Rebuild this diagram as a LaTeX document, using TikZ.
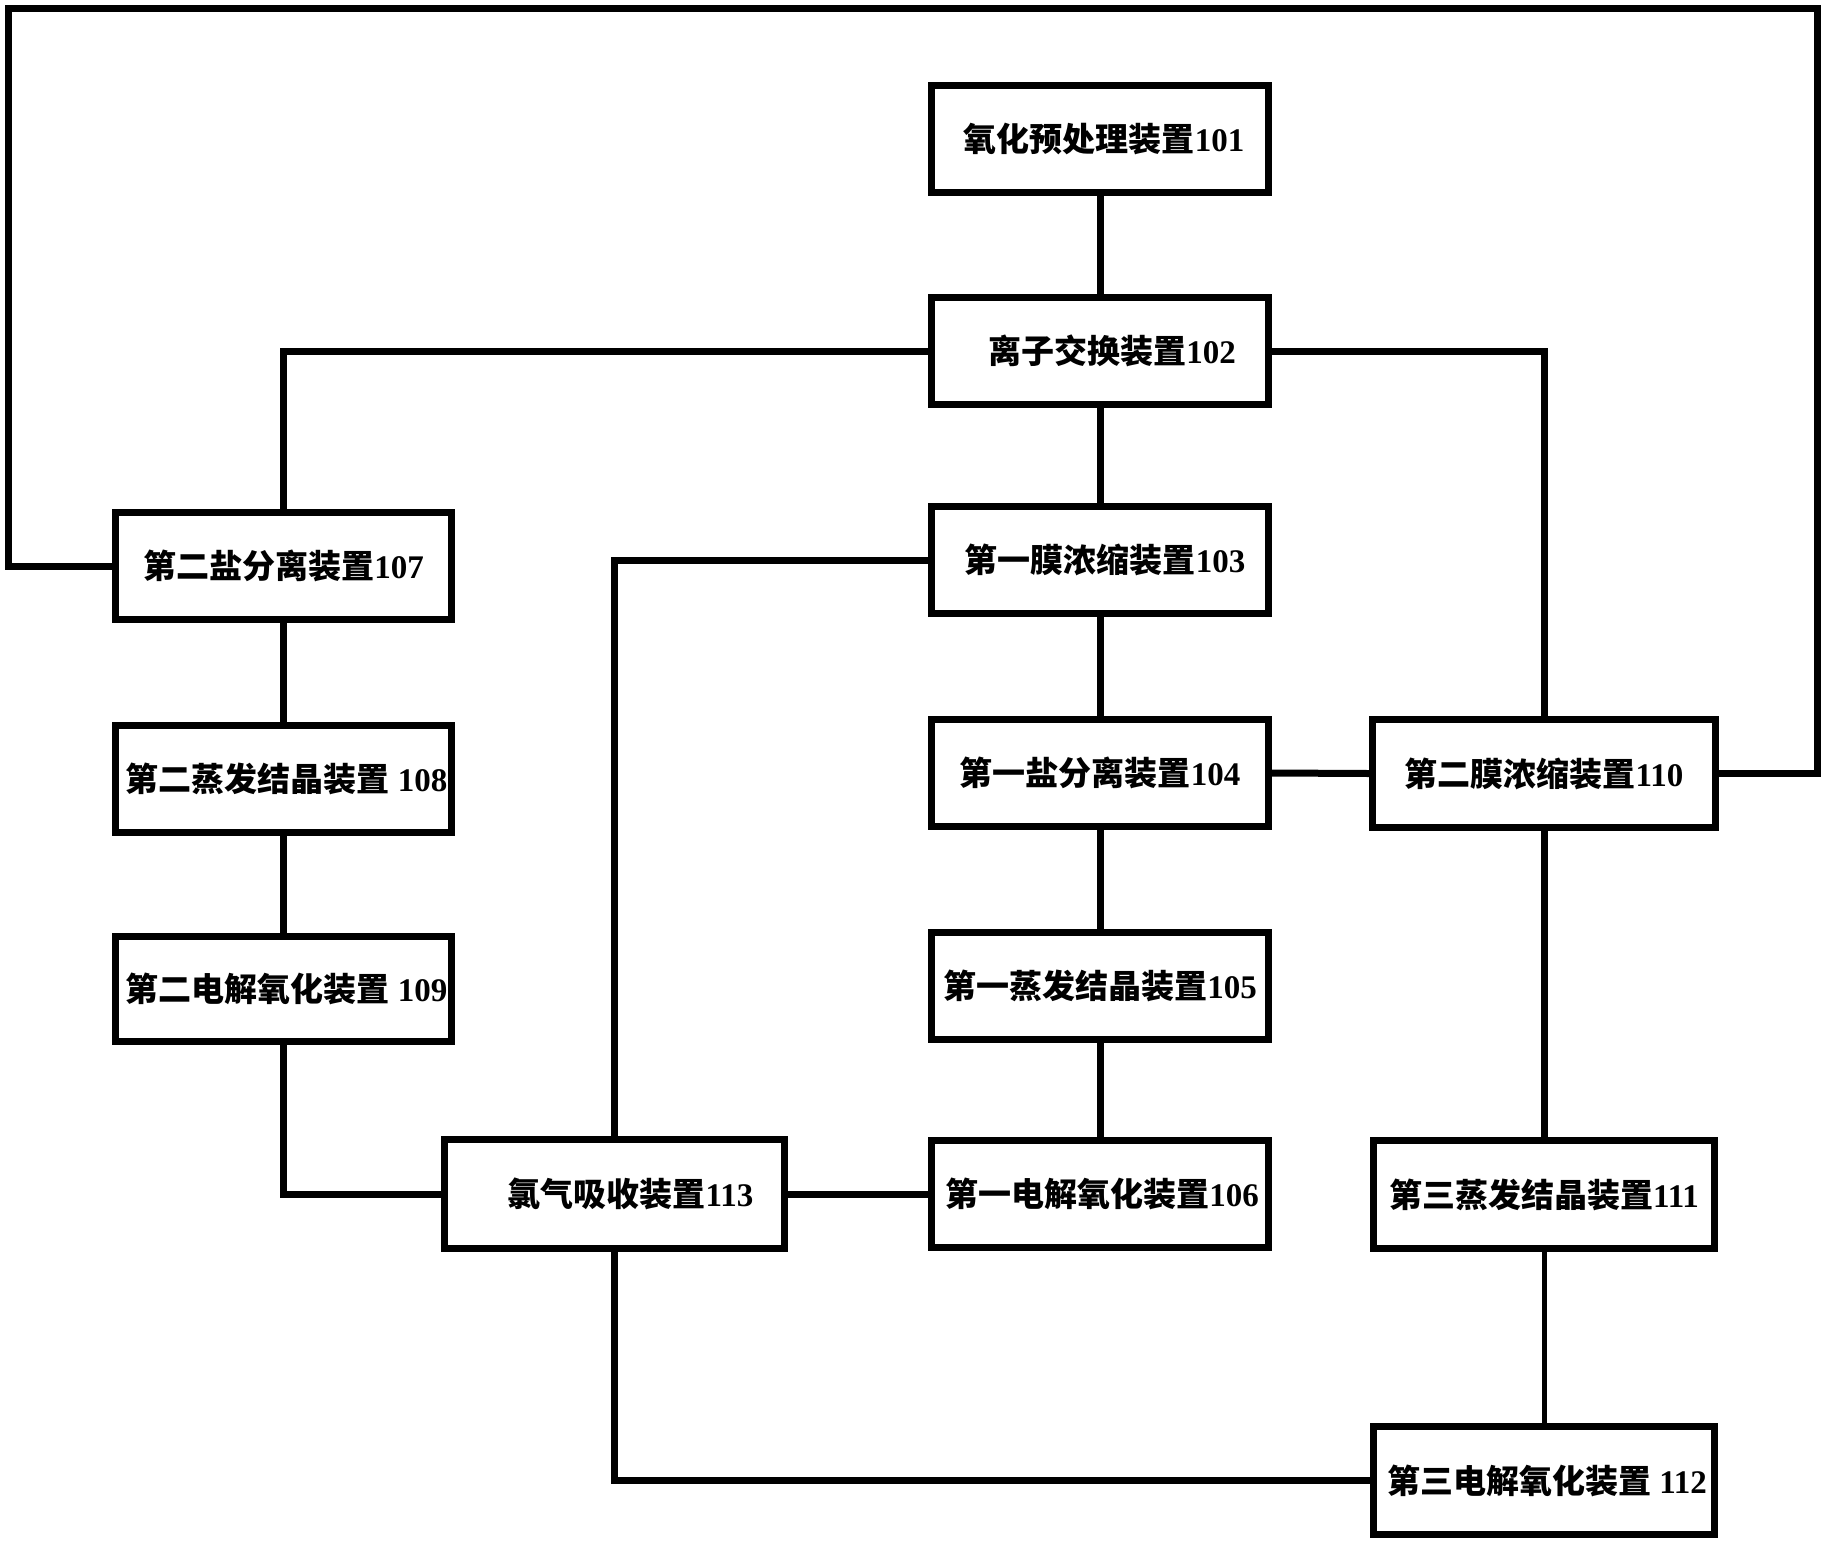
\documentclass[tikz,border=0pt]{standalone}
\usepackage{fontspec}
\newfontfamily\cjkf{Noto Sans CJK SC}
\newfontfamily\digf{Liberation Serif}
\newcommand\lab[2]{{\cjkf #1}{\digf #2}}
\tikzset{
  box/.style={draw, line width=7pt, minimum width=337pt, minimum height=107pt,
    inner sep=0pt, font=\fontsize{33}{40}\selectfont\bfseries},
  conn/.style={line width=7pt, line join=miter},
  thinconn/.style={line width=5pt}
}
\begin{document}
\begin{tikzpicture}[x=1pt,y=-1pt]
\fill[white] (0,0) rectangle (1822,1542);
\useasboundingbox (0,0) rectangle (1822,1542);
% middle column
\node[box] (b101) at (1100,139) {\hspace*{8pt}\lab{氧化预处理装置}{101}};
\node[box] (b102) at (1100,351) {\hspace*{24pt}\lab{离子交换装置}{102}};
\node[box] (b103) at (1100,560) {\hspace*{10pt}\lab{第一膜浓缩装置}{103}};
\node[box] (b104) at (1100,773) {\lab{第一盐分离装置}{104}};
\node[box] (b105) at (1100,985.5) {\lab{第一蒸发结晶装置}{105}};
\node[box] (b106) at (1100,1194) {\hspace*{4pt}\lab{第一电解氧化装置}{106}};
% left column
\node[box, minimum width=336pt] (b107) at (283.5,566) {\lab{第二盐分离装置}{107}};
\node[box, minimum width=336pt] (b108) at (283.5,779) {\hspace*{6pt}\lab{第二蒸发结晶装置}{~108}};
\node[box, minimum width=336pt, minimum height=105pt] (b109) at (283.5,989) {\hspace*{6pt}\lab{第二电解氧化装置}{~109}};
% chlorine absorption
\node[box, minimum width=340pt, minimum height=109pt] (b113) at (614.5,1194) {\hspace*{32pt}\lab{氯气吸收装置}{113}};
% right column
\node[box, minimum width=343pt, minimum height=108pt] (b110) at (1544,773.5) {\lab{第二膜浓缩装置}{110}};
\node[box, minimum width=341pt, minimum height=108pt] (b111) at (1544,1194.5) {\lab{第三蒸发结晶装置}{111}};
\node[box, minimum width=341pt, minimum height=108pt] (b112) at (1544,1480.5) {\hspace*{6pt}\lab{第三电解氧化装置}{~112}};
% loop corners
\coordinate (tl) at (8,8);
\coordinate (tr) at (1817,8);
% connectors
\draw[conn] (b101) -- (b102);
\draw[conn] (b102) -- (b103);
\draw[conn] (b103) -- (b104);
\draw[conn] (b104) -- (b105);
\draw[conn] (b105) -- (b106);
\draw[conn] (b107) -- (b108);
\draw[conn] (b108) -- (b109);
\draw[conn] (b110) -- (b111);
\draw[thinconn] (b111) -- (b112);
\draw[conn] (b102.west) -| (b107.north);
\draw[conn] (b102.east) -| (b110.north);
\draw[conn] (b107.west) -| (tl) -- (tr) |- (b110.east);
\draw[conn] (b103.west) -| (b113.north);
\draw[conn] (b104.east) -- (b110.west);
\draw[conn] (b109.south) |- (b113.west);
\draw[conn] (b113.east) -- (b106.west);
\draw[conn] (b113.south) |- (b112.west);
\end{tikzpicture}
\end{document}
